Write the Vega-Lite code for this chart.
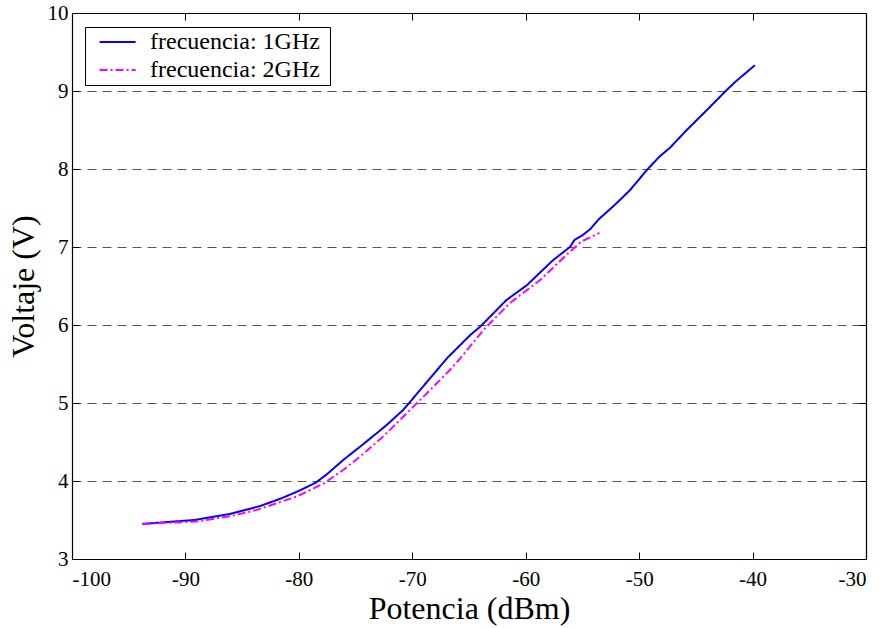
{
  "$schema": "https://vega.github.io/schema/vega-lite/v6.json",
  "width": 794,
  "height": 546,
  "autosize": {"type": "none"},
  "padding": {"left": 72, "top": 13, "right": 14, "bottom": 69},
  "background": "white",
  "config": {
    "view": {"stroke": null},
    "font": "Liberation Serif, DejaVu Serif",
    "axis": {
      "labelColor": "black",
      "titleFont": "Liberation Serif, DejaVu Serif",
      "titleFontSize": 32,
      "titleFontWeight": "normal",
      "titleColor": "black",
      "domainColor": "black",
      "domainWidth": 1.2,
      "tickColor": "black",
      "tickWidth": 1,
      "tickSize": -7
    },
    "legend": {
      "labelFont": "Liberation Serif, DejaVu Serif",
      "labelFontSize": 24,
      "labelColor": "black"
    }
  },
  "data": {
    "values": [
      {"serie": "frecuencia: 1GHz", "potencia": -93.8, "voltaje": 3.45},
      {"serie": "frecuencia: 1GHz", "potencia": -89.2, "voltaje": 3.50},
      {"serie": "frecuencia: 1GHz", "potencia": -86.0, "voltaje": 3.58},
      {"serie": "frecuencia: 1GHz", "potencia": -83.4, "voltaje": 3.68},
      {"serie": "frecuencia: 1GHz", "potencia": -81.5, "voltaje": 3.78},
      {"serie": "frecuencia: 1GHz", "potencia": -79.9, "voltaje": 3.88},
      {"serie": "frecuencia: 1GHz", "potencia": -78.5, "voltaje": 3.98},
      {"serie": "frecuencia: 1GHz", "potencia": -77.5, "voltaje": 4.09},
      {"serie": "frecuencia: 1GHz", "potencia": -76.0, "voltaje": 4.28},
      {"serie": "frecuencia: 1GHz", "potencia": -74.6, "voltaje": 4.44},
      {"serie": "frecuencia: 1GHz", "potencia": -72.4, "voltaje": 4.70},
      {"serie": "frecuencia: 1GHz", "potencia": -70.8, "voltaje": 4.91},
      {"serie": "frecuencia: 1GHz", "potencia": -69.0, "voltaje": 5.22},
      {"serie": "frecuencia: 1GHz", "potencia": -66.9, "voltaje": 5.58},
      {"serie": "frecuencia: 1GHz", "potencia": -64.9, "voltaje": 5.87},
      {"serie": "frecuencia: 1GHz", "potencia": -64.0, "voltaje": 5.98},
      {"serie": "frecuencia: 1GHz", "potencia": -61.7, "voltaje": 6.32},
      {"serie": "frecuencia: 1GHz", "potencia": -59.9, "voltaje": 6.51},
      {"serie": "frecuencia: 1GHz", "potencia": -57.6, "voltaje": 6.83},
      {"serie": "frecuencia: 1GHz", "potencia": -56.1, "voltaje": 7.00},
      {"serie": "frecuencia: 1GHz", "potencia": -55.7, "voltaje": 7.09},
      {"serie": "frecuencia: 1GHz", "potencia": -55.0, "voltaje": 7.15},
      {"serie": "frecuencia: 1GHz", "potencia": -54.3, "voltaje": 7.23},
      {"serie": "frecuencia: 1GHz", "potencia": -53.6, "voltaje": 7.35},
      {"serie": "frecuencia: 1GHz", "potencia": -52.0, "voltaje": 7.56},
      {"serie": "frecuencia: 1GHz", "potencia": -50.8, "voltaje": 7.73},
      {"serie": "frecuencia: 1GHz", "potencia": -49.3, "voltaje": 7.99},
      {"serie": "frecuencia: 1GHz", "potencia": -48.2, "voltaje": 8.16},
      {"serie": "frecuencia: 1GHz", "potencia": -47.3, "voltaje": 8.27},
      {"serie": "frecuencia: 1GHz", "potencia": -45.8, "voltaje": 8.50},
      {"serie": "frecuencia: 1GHz", "potencia": -44.0, "voltaje": 8.76},
      {"serie": "frecuencia: 1GHz", "potencia": -42.3, "voltaje": 9.01},
      {"serie": "frecuencia: 1GHz", "potencia": -41.5, "voltaje": 9.12},
      {"serie": "frecuencia: 1GHz", "potencia": -39.8, "voltaje": 9.33},
      {"serie": "frecuencia: 2GHz", "potencia": -93.8, "voltaje": 3.45},
      {"serie": "frecuencia: 2GHz", "potencia": -89.0, "voltaje": 3.48},
      {"serie": "frecuencia: 2GHz", "potencia": -86.0, "voltaje": 3.55},
      {"serie": "frecuencia: 2GHz", "potencia": -83.7, "voltaje": 3.63},
      {"serie": "frecuencia: 2GHz", "potencia": -80.2, "voltaje": 3.80},
      {"serie": "frecuencia: 2GHz", "potencia": -77.8, "voltaje": 3.97},
      {"serie": "frecuencia: 2GHz", "potencia": -76.0, "voltaje": 4.15},
      {"serie": "frecuencia: 2GHz", "potencia": -74.3, "voltaje": 4.35},
      {"serie": "frecuencia: 2GHz", "potencia": -72.5, "voltaje": 4.58},
      {"serie": "frecuencia: 2GHz", "potencia": -71.1, "voltaje": 4.78},
      {"serie": "frecuencia: 2GHz", "potencia": -69.3, "voltaje": 5.04},
      {"serie": "frecuencia: 2GHz", "potencia": -66.7, "voltaje": 5.42},
      {"serie": "frecuencia: 2GHz", "potencia": -65.9, "voltaje": 5.55},
      {"serie": "frecuencia: 2GHz", "potencia": -63.7, "voltaje": 5.94},
      {"serie": "frecuencia: 2GHz", "potencia": -61.4, "voltaje": 6.28},
      {"serie": "frecuencia: 2GHz", "potencia": -58.7, "voltaje": 6.58},
      {"serie": "frecuencia: 2GHz", "potencia": -56.4, "voltaje": 6.90},
      {"serie": "frecuencia: 2GHz", "potencia": -55.1, "voltaje": 7.07},
      {"serie": "frecuencia: 2GHz", "potencia": -53.5, "voltaje": 7.18}
    ]
  },
  "layer": [
    {
      "mark": {"type": "line", "strokeWidth": 2},
      "encoding": {
        "x": {
          "field": "potencia", "type": "quantitative",
          "scale": {"domain": [-100, -30], "nice": false, "zero": false},
          "axis": {
            "orient": "bottom", "values": [-100, -90, -80, -70, -60, -50, -40, -30], "grid": false, "title": "Potencia (dBm)",
            "labelFont": "Liberation Serif, DejaVu Serif", "labelFontSize": 21,
            "labelExpr": "datum.value < 0 ? '-' + abs(datum.value) : '' + datum.value",
            "labelPadding": 16, "titlePadding": 4, "zindex": 1
          }
        },
        "y": {
          "field": "voltaje", "type": "quantitative",
          "scale": {"domain": [3, 10], "nice": false, "zero": false},
          "axis": {
            "orient": "left", "values": [3, 4, 5, 6, 7, 8, 9, 10], "grid": true, "gridDash": [9, 6], "gridColor": "#555555", "gridWidth": 1, "title": "Voltaje (V)",
            "labelFont": "Liberation Serif, DejaVu Serif", "labelFontSize": 21, "labelPadding": 11, "titlePadding": 7, "zindex": 0
          }
        },
        "color": {
          "field": "serie", "type": "nominal",
          "scale": {"domain": ["frecuencia: 1GHz", "frecuencia: 2GHz"], "range": ["#0000ff", "#ff00ff"]},
          "legend": {"title": "\u00a0", "titleOrient": "right", "titlePadding": 7, "orient": "none", "legendX": 13, "legendY": 14, "padding": 3, "strokeColor": "black", "fillColor": "white", "symbolType": "M-0.09,0L7.91,0", "symbolSize": 81, "symbolStrokeWidth": 2, "labelOffset": 38, "labelLimit": 400, "labelFontSize": 24, "rowPadding": 4}
        },
        "strokeDash": {
          "field": "serie", "type": "nominal",
          "scale": {"domain": ["frecuencia: 1GHz", "frecuencia: 2GHz"], "range": [[1, 0], [8, 3, 2, 3]]},
          "legend": {"title": "\u00a0", "titleOrient": "right", "titlePadding": 7, "orient": "none", "legendX": 13, "legendY": 14, "padding": 3, "strokeColor": "black", "fillColor": "white", "symbolType": "M-0.09,0L7.91,0", "symbolSize": 81, "symbolStrokeWidth": 2, "labelOffset": 38, "labelLimit": 400, "labelFontSize": 24, "rowPadding": 4}
        }
      }
    },
    {
      "mark": {"type": "point", "opacity": 0},
      "encoding": {
        "x": {
          "field": "potencia", "type": "quantitative",
          "axis": {"orient": "top", "values": [-100, -90, -80, -70, -60, -50, -40, -30], "labels": false, "title": null, "grid": false, "zindex": 1}
        },
        "y": {
          "field": "voltaje", "type": "quantitative",
          "axis": {"orient": "right", "values": [3, 4, 5, 6, 7, 8, 9, 10], "labels": false, "title": null, "grid": false, "zindex": 1}
        }
      }
    }
  ],
  "resolve": {"axis": {"x": "independent", "y": "independent"}}
}
